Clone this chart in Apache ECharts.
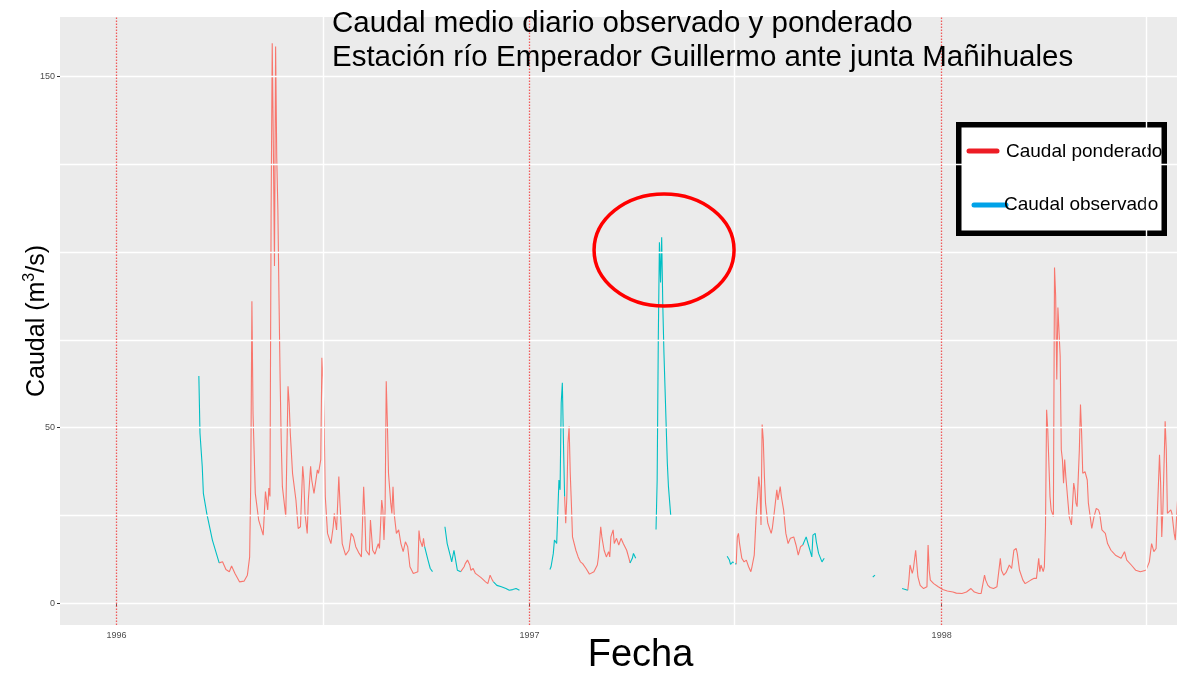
<!DOCTYPE html>
<html>
<head>
<meta charset="utf-8">
<script src="https://cdn.jsdelivr.net/npm/echarts@6/dist/echarts.min.js"></script>
<style>
html,body{margin:0;padding:0;background:#fff;}
#c{width:1177px;height:677px;}
</style>
</head>
<body>
<div id="c"></div>
<script>
// ---- DATA (days counted from 1996-01-01; null = gap in record) ----
const START_DATE = [1996, 0, 1];
const yearTicks = ['1996-01-01', '1997-01-01', '1998-01-01'];
const yearLabels = ['1996', '1997', '1998'];
const midYearLines = [183, 547.5, 912.5];
const yTickLabels = [0, 50, 150];
const yGridValues = [0, 25, 50, 75, 100, 125, 150];

const obsDays = [73,74,76,77,79,80,85,91, 92,
  273,276,278,280, 285,
  291,293,296,297,299,301,302,305, 320,
  334,337,341,345,348,351,354,357, 370,
  384,385,387,388,390,391,392,393,394,395,396,397, 420,
  455,457,458,460, 470,
  478,479,480,481,482,483,484,485,486,487,488,489,491, 520,
  541,543,544,546,547,549, 580,
  608,609,611,613,616,617,619,620,622,625,627, 650,
  670,672, 685,
  696,701];
const obsVals = [64.7,48.5,39,31.3,27.5,25.6,18,11.5, null,
  16.1,12.3,9.9,9, null,
  21.8,17,13.2,11.8,15.1,11.3,9.4,9, null,
  6.1,5.1,4.7,4.2,3.7,3.9,4.2,3.7, null,
  9.6,10.4,14.2,18,17,26,35.1,32.3,57,62.8,45.6,30.4, null,
  11.5,12.8,14.2,12.8, null,
  21,35.1,75,102.8,91.3,104.2,84.7,71.3,60.9,50.4,39.9,33.2,25.1, null,
  13.4,12.3,11.1,11.8,11.3,11.1, null,
  16.6,16.1,18.9,16.6,13.2,19.4,19.9,17.5,14.2,11.8,12.8, null,
  7.5,8, null,
  4.2,3.7];

const pondDays = [91,94,97,100,102,105,109,113,116,118,119,120,121,123,126,130,131,132,134,135,136,
  137,138,139,140,141,142,143,144,145,146,147,150,151,152,153,154,156,159,161,163,165,166,167,169,170,
  172,173,175,178,179,181,182,183,184,185,187,190,192,193,195,197,198,200,203,206,208,210,212,215,217,
  219,220,221,224,225,227,229,231,232,233,235,236,237,238,239,240,241,243,244,245,246,248,250,252,254,
  256,258,260,263,267,268,269,271,272,273, 280,
  305,308,309,311,313,314,316,318,323,327,329,331,333,334, 360,
  397,398,399,400,401,402,403,404,407,409,411,413,416,419,423,426,427,429,430,432,434,436,437,438,440,
  441,443,445,447,449,452,454,455, 500,
  549,550,551,552,554,556,558,560,562,563,565,567,568,569,570,571,572,573,574,575,577,580,581,583,585,
  586,588,589,591,593,595,597,600,602,604,606,608, 650,
  701,702,703,705,706,708,710,712,715,718,719,720,721,724,728,732,736,741,744,749,753,757,760,764,766,
  769,770,772,774,777,780,783,784,786,788,791,793,795,797,798,800,803,805,810,813,815,817,818,819,821,
  822,823,824,825,827,828,830,831,832,833,834,835,836,837,838,839,840,841,843,844,846,848,849,850,851,
  853,854,855,856,858,860,861,864,866,868,870,871,873,876,878,881,885,890,893,895,899,903,907,912,915,
  917,919,921,922,924,925,926,927,929,930,931,932,934,935,937,938,940,941];
const pondVals = [11.5,11.8,9.6,9,10.6,8.5,6.1,6.3,8,13.2,35,86,54,31.3,23.7,19.4,25.6,31.8,26.6,32.8,30.4,
  110,159.4,130,96,158.5,127,112,87,63.7,45.6,33.2,24.7,42.8,61.8,57,48.5,37,29.4,21.3,21.8,39,35.1,25.6,19.9,29.4,
  39,35.1,31.3,38,37,40.9,69.9,63.7,51.3,30.4,19.9,17,21.8,25.6,20.9,36.1,28.5,17,13.7,15.1,19.9,18.9,16.1,14.2,13.2,
  33.2,25.6,15.1,13.7,23.7,15.1,14,16.1,17,15.6,29.4,26.6,18,26.6,63.2,51.3,37,28.5,25.6,33.2,25.6,19.9,20.9,17,14.7,
  17.5,16.1,10.4,8.5,9,20.7,18,16.1,18.5,16.1, null,
  9,10.4,11.3,12.3,10.9,9.4,9.9,8.5,7.3,6.1,5.6,8,6.6,6.1, null,
  30.4,22.8,30.4,45.6,50.4,37,28.5,18.9,15.1,13.2,11.8,11.3,9.9,8.3,9,10.9,13.2,21.8,18.9,15.1,13.2,14.7,13.2,18.9,20.9,
  17,18.5,16.6,18.5,17,15.1,12.8,11.5, null,
  11.1,18.9,19.9,17,12.8,11.8,12.3,10.4,9,10.4,13.7,26.6,30.4,36.1,32.8,22.3,50.9,46.6,36.1,28.5,22.8,19.9,21.3,26.6,32.3,
  29.4,33.2,30.4,26.6,19.9,17,18.5,18.9,16.6,13.7,16.1,16.6, null,
  3.7,6.6,10.9,8.5,9.9,15.1,7.5,5.1,4.2,4.7,16.6,9.4,6.6,5.6,4.7,3.9,3.5,3.2,2.9,2.8,3.2,4.2,3.2,2.8,2.8,
  8,6.6,5.1,4.5,4.2,4.7,12.8,9.4,8,8.7,10.9,9.9,15.1,15.6,14.2,9.4,6.6,5.6,6.6,7.1,7.1,12.8,9,10.9,9,
  10.4,21.8,55.1,49.4,30.4,26.6,24.7,95.6,87.5,63.7,84.2,83.7,70.4,43.7,40.9,34.2,40.9,36.1,28.5,24.7,22.3,34.2,32.3,28.5,27.5,
  43.7,56.6,48.5,37,37.5,35.1,28.5,21.3,24.7,27,26.6,25.6,20.9,19.9,17,15.1,13.7,12.8,14.7,12.3,10.9,9.4,9,9.4,11.8,
  17,14.7,15.6,24.7,42.3,34.2,18.9,26.6,51.8,43.7,25.6,25.6,26.6,25.6,19.9,18,29.4,30];

const xRangeDays = [-50, 939.5];
const yRange = [-6.18, 166.9];
const highlightCenter = [486, 100]; // day, value of the circled peak

// ---- BUILD ----
const T0 = new Date(START_DATE[0], START_DATE[1], START_DATE[2]).getTime();
const DAY = 86400000;
const t = d => T0 + d * DAY;
const pairs = (days, vals) => days.map((d, i) => [t(d), vals[i]]);
const FONT = '"Liberation Sans", Arial, sans-serif';
const yearTs = yearTicks.map(s => { const p = s.split('-'); return new Date(+p[0], +p[1]-1, +p[2]).getTime(); });
const yearFmt = v => { const i = yearTs.findIndex(y => Math.abs(y - v) < DAY); return i >= 0 ? yearLabels[i] : ''; };

const chart = echarts.init(document.getElementById('c'), null, {renderer: 'canvas'});
const option = {
  animation: false,
  backgroundColor: '#ffffff',
  textStyle: {fontFamily: FONT},
  title: {
    text: 'Caudal medio diario observado y ponderado\nEstación río Emperador Guillermo ante junta Mañihuales',
    left: 332, top: 7, padding: 0,
    textStyle: {fontSize: 29.5, fontWeight: 'normal', color: '#000', lineHeight: 34, fontFamily: FONT}
  },
  grid: {left: 60, right: 0, top: 17, bottom: 52, show: true, backgroundColor: '#EBEBEB', borderWidth: 0,
    containLabel: false, outerBoundsMode: 'none'},
  xAxis: {
    type: 'value', min: t(xRangeDays[0]), max: t(xRangeDays[1]),
    name: 'Fecha', nameLocation: 'middle', nameGap: 31, nameMoveOverlap: false,
    nameTextStyle: {fontSize: 38, color: '#000', fontFamily: FONT, verticalAlign: 'middle', padding: [0, 0, 0, 44]},
    axisLine: {show: false},
    axisTick: {show: true, customValues: yearTs, length: 3, lineStyle: {color: '#333', width: 1}},
    axisLabel: {customValues: yearTs, formatter: yearFmt, fontSize: 9, color: '#4D4D4D', margin: 6, fontFamily: FONT},
    splitLine: {show: false}
  },
  yAxis: {
    type: 'value', min: yRange[0], max: yRange[1],
    name: 'Caudal (m{sup|3}/s)', nameLocation: 'middle', nameRotate: 90, nameGap: 23, nameMoveOverlap: false,
    nameTextStyle: {fontSize: 25, color: '#000', fontFamily: FONT, lineHeight: 30, verticalAlign: 'middle',
      rich: {sup: {fontSize: 16, color: '#000', fontFamily: FONT, verticalAlign: 'top', lineHeight: 18}}},
    axisLine: {show: false},
    axisTick: {show: true, customValues: yTickLabels, length: 3, lineStyle: {color: '#333', width: 1}},
    axisLabel: {customValues: yTickLabels, fontSize: 9, color: '#4D4D4D', margin: 5, fontFamily: FONT},
    splitLine: {show: false}
  },
  series: [
    {
      type: 'line', name: 'grid', data: [], z: 1, silent: true,
      markLine: {
        silent: true, symbol: 'none', label: {show: false}, animation: false,
        data: [
          ...yGridValues.map(v => ({yAxis: v, lineStyle: {color: '#FFFFFF', width: 1.4, type: 'solid'}})),
          ...midYearLines.map(d => ({xAxis: t(d), lineStyle: {color: '#FFFFFF', width: 1.4, type: 'solid'}})),
          ...yearTs.map(v => ({xAxis: v, lineStyle: {color: '#F05A5A', width: 1.3, type: [1.5, 1.5]}}))
        ]
      }
    },
    {
      type: 'line', name: 'Caudal ponderado', data: pairs(pondDays, pondVals), z: 3,
      showSymbol: false, symbol: 'none', connectNulls: false,
      lineStyle: {color: '#F8766D', width: 1.1}, itemStyle: {color: '#F8766D'}
    },
    {
      type: 'line', name: 'Caudal observado', data: pairs(obsDays, obsVals), z: 3,
      showSymbol: false, symbol: 'none', connectNulls: false,
      lineStyle: {color: '#00BFC4', width: 1.1}, itemStyle: {color: '#00BFC4'}
    }
  ]
};
chart.setOption(option);

const c = chart.convertToPixel({gridIndex: 0}, [t(highlightCenter[0]), highlightCenter[1]]);
chart.setOption({
  graphic: [
    {type: 'ellipse', shape: {cx: c[0] - 1, cy: c[1] - 2, rx: 70, ry: 56}, style: {fill: 'none', stroke: '#FF0000', lineWidth: 3.5}, z: 10, silent: true},
    {type: 'group', z: 10, silent: true, children: [
      {type: 'rect', shape: {x: 958, y: 124, width: 207, height: 110}, style: {fill: '#FFFFFF'}, z2: 1},
      {type: 'line', shape: {x1: 969, y1: 151, x2: 997, y2: 151}, style: {stroke: '#ED1C24', lineWidth: 5, lineCap: 'round'}, z2: 2},
      {type: 'text', x: 1006, y: 152, style: {text: 'Caudal ponderado', fontSize: 19, fontFamily: FONT, fill: '#000', verticalAlign: 'middle'}, z2: 2},
      {type: 'line', shape: {x1: 974, y1: 205, x2: 1006, y2: 205}, style: {stroke: '#00A2E8', lineWidth: 5, lineCap: 'round'}, z2: 2},
      {type: 'text', x: 1004, y: 205, style: {text: 'Caudal observado', fontSize: 19, fontFamily: FONT, fill: '#000', verticalAlign: 'middle'}, z2: 2},
      {type: 'rect', shape: {x: 958.75, y: 124.75, width: 205.5, height: 108.5}, style: {fill: 'none', stroke: '#000', lineWidth: 5.5}, z2: 3}
    ]}
  ]
});
</script>
</body>
</html>
